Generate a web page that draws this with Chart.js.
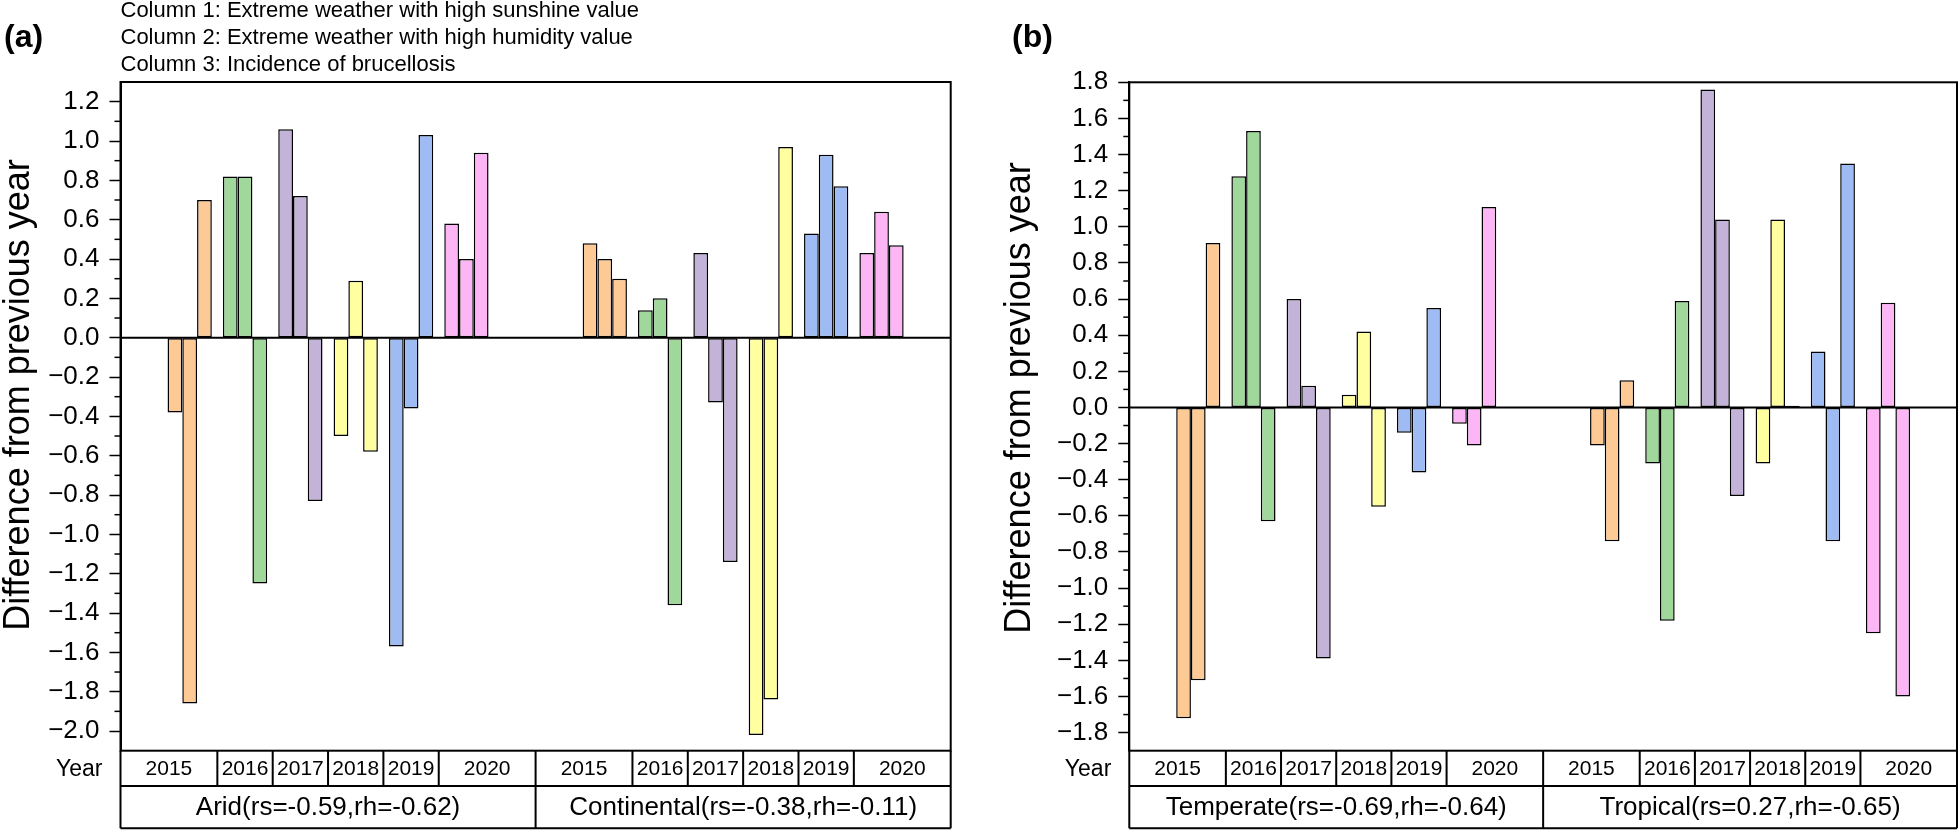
<!DOCTYPE html>
<html>
<head>
<meta charset="utf-8">
<script src="https://cdn.jsdelivr.net/npm/chart.js@4.4.1/dist/chart.umd.min.js"></script>
<style>
  html, body { margin: 0; padding: 0; background: #fff; }
  body { width: 1960px; height: 831px; position: relative; overflow: hidden; }
  .panel { position: absolute; top: 0; width: 980px; height: 831px; }
  #panelA { left: 0; }
  #panelB { left: 980px; }
</style>
</head>
<body>
<div class="panel" id="panelA"><canvas id="chartA" width="980" height="831"></canvas></div>
<div class="panel" id="panelB"><canvas id="chartB" width="980" height="831"></canvas></div>
<script>
const years = ["2015", "2016", "2017", "2018", "2019", "2020"];
const columnNotes = [
  "Column 1: Extreme weather with high sunshine value",
  "Column 2: Extreme weather with high humidity value",
  "Column 3: Incidence of brucellosis",
];
const panelAGroups = ["Arid(rs=-0.59,rh=-0.62)", "Continental(rs=-0.38,rh=-0.11)"];
const panelBGroups = ["Temperate(rs=-0.69,rh=-0.64)", "Tropical(rs=0.27,rh=-0.65)"];

// major tick labels of each panel
const panelATicks = [-2.0, -1.8, -1.6, -1.4, -1.2, -1.0, -0.8, -0.6, -0.4, -0.2, 0.0, 0.2, 0.4, 0.6, 0.8, 1.0, 1.2];
const panelBTicks = [-1.8, -1.6, -1.4, -1.2, -1.0, -0.8, -0.6, -0.4, -0.2, 0.0, 0.2, 0.4, 0.6, 0.8, 1.0, 1.2, 1.4, 1.6, 1.8];

// one value per year, column 1..3 = sunshine, humidity, brucellosis
const aridCol1 = [-0.38, 0.82, 1.06, -0.50, -1.57, 0.58];
const aridCol2 = [-1.86, 0.82, 0.72, 0.29, -0.36, 0.40];
const aridCol3 = [0.70, -1.25, -0.83, -0.58, 1.03, 0.94];
const continentalCol1 = [0.48, 0.14, 0.43, -2.02, 0.53, 0.43];
const continentalCol2 = [0.40, 0.20, -0.33, -1.84, 0.93, 0.64];
const continentalCol3 = [0.30, -1.36, -1.14, 0.97, 0.77, 0.47];
const temperateCol1 = [-1.72, 1.28, 0.60, 0.07, -0.14, -0.09];
const temperateCol2 = [-1.51, 1.53, 0.12, 0.42, -0.36, -0.21];
const temperateCol3 = [0.91, -0.63, -1.39, -0.55, 0.55, 1.11];
const tropicalCol1 = [-0.21, -0.31, 1.76, -0.31, 0.31, -1.25];
const tropicalCol2 = [-0.74, -1.18, 1.04, 1.04, -0.74, 0.58];
const tropicalCol3 = [0.15, 0.59, -0.49, 0.01, 1.35, -1.60];

const yearColors = ["#FDCA96", "#A0D89C", "#C4B3D8", "#FFFFA0", "#9EBCF3", "#FCB6F6"];

const FONT = "'Liberation Sans', Arial, sans-serif";
// each climate group is 7.5 year-slots wide, first year sits 1.25 slots in
const GROUP_SLOTS = 7.5;
const FIRST_OFFSET = 1.25;

function buildPoints(groupSeries) {
  const pts = [];
  groupSeries.forEach((vals, g) => {
    vals.forEach((v, i) => pts.push({ x: g * GROUP_SLOTS + FIRST_OFFSET + i, y: v }));
  });
  return pts;
}

function fmtTick(v) {
  if (Math.abs(v) < 1e-9) return "0.0";
  return v < 0 ? "\u2212" + Math.abs(v).toFixed(1) : v.toFixed(1);
}

function decorPlugin(cfg) {
  return {
    id: "decor",
    afterDraw(chart) {
      const ctx = chart.ctx;
      const area = chart.chartArea;
      const xs = chart.scales.x;
      const ys = chart.scales.y;
      ctx.save();
      ctx.strokeStyle = "#000";
      ctx.fillStyle = "#000";

      // minor ticks halfway between the labelled ones
      ctx.lineWidth = 1.5;
      for (let i = 0; i < cfg.ticks.length - 1; i++) {
        const py = ys.getPixelForValue((cfg.ticks[i] + cfg.ticks[i + 1]) / 2);
        ctx.beginPath();
        ctx.moveTo(area.left - 6, py);
        ctx.lineTo(area.left, py);
        ctx.stroke();
      }

      // zero line and frame
      ctx.lineWidth = 2;
      const y0 = ys.getPixelForValue(0);
      ctx.beginPath();
      ctx.moveTo(area.left, y0);
      ctx.lineTo(area.right, y0);
      ctx.stroke();
      ctx.strokeRect(area.left, area.top, area.right - area.left, area.bottom - area.top);

      // category table under the plot
      const rowTop = area.bottom, rowMid = area.bottom + 35.3, rowBot = area.bottom + 77.6;
      ctx.beginPath();
      ctx.moveTo(area.left, rowMid); ctx.lineTo(area.right, rowMid);
      ctx.moveTo(area.left, rowBot); ctx.lineTo(area.right, rowBot);
      ctx.moveTo(area.left, rowTop); ctx.lineTo(area.left, rowBot);
      ctx.moveTo(area.right, rowTop); ctx.lineTo(area.right, rowBot);
      const mid = xs.getPixelForValue(GROUP_SLOTS);
      ctx.moveTo(mid, rowTop); ctx.lineTo(mid, rowBot);
      for (let g = 0; g < 2; g++) {
        for (let i = 0; i < years.length - 1; i++) {
          const px = xs.getPixelForValue(g * GROUP_SLOTS + FIRST_OFFSET + i + 0.5);
          ctx.moveTo(px, rowTop); ctx.lineTo(px, rowMid);
        }
      }
      ctx.stroke();

      ctx.textBaseline = "middle";
      ctx.textAlign = "center";
      ctx.font = "21px " + FONT;
      for (let g = 0; g < 2; g++) {
        const base = g * GROUP_SLOTS;
        const edges = [base];
        for (let i = 0; i < years.length - 1; i++) edges.push(base + FIRST_OFFSET + i + 0.5);
        edges.push(base + GROUP_SLOTS);
        years.forEach((yr, i) => {
          const cx = (xs.getPixelForValue(edges[i]) + xs.getPixelForValue(edges[i + 1])) / 2;
          ctx.fillText(yr, cx, (rowTop + rowMid) / 2 + 1);
        });
      }
      ctx.font = "26px " + FONT;
      cfg.groups.forEach((name, g) => {
        const cx = (xs.getPixelForValue(g * GROUP_SLOTS) + xs.getPixelForValue((g + 1) * GROUP_SLOTS)) / 2;
        ctx.fillText(name, cx, (rowMid + rowBot) / 2 + 1);
      });
      ctx.textAlign = "right";
      ctx.font = "23px " + FONT;
      ctx.fillText("Year", area.left - 18, (rowTop + rowMid) / 2 + 1);

      // y axis title
      ctx.save();
      ctx.translate(cfg.titleX, cfg.titleY);
      ctx.rotate(-Math.PI / 2);
      ctx.textAlign = "center";
      ctx.font = "36px " + FONT;
      ctx.fillText("Difference from previous year", 0, 0);
      ctx.restore();

      // panel letter
      ctx.textAlign = "left";
      ctx.textBaseline = "alphabetic";
      ctx.font = "bold 32px " + FONT;
      ctx.fillText(cfg.letter, cfg.letterX, 47);

      if (cfg.notes) {
        ctx.font = "22px " + FONT;
        cfg.notes.forEach((t, i) => ctx.fillText(t, area.left, 17 + i * 27.2));
      }
      ctx.restore();
    },
  };
}

function makePanel(canvasId, cfg) {
  const datasets = cfg.cols.map((groupSeries, k) => ({
    label: columnNotes[k],
    data: buildPoints(groupSeries),
    backgroundColor: cfg.groups.flatMap(() => yearColors),
    borderColor: "#000",
    borderWidth: 1.5,
    borderSkipped: false,
    categoryPercentage: 0.8,
    barPercentage: 1.0,
  }));

  new Chart(document.getElementById(canvasId), {
    type: "bar",
    data: { datasets },
    options: {
      responsive: false,
      animation: false,
      devicePixelRatio: 1,
      layout: { padding: { left: 0, right: cfg.padRight, top: cfg.padTop, bottom: 80.3 } },
      plugins: { legend: { display: false }, tooltip: { enabled: false } },
      scales: {
        x: { type: "linear", min: 0, max: 2 * GROUP_SLOTS, display: false, offset: false },
        y: {
          min: cfg.yMin,
          max: cfg.yMax,
          afterFit(scale) { scale.width = cfg.axisWidth; },
          afterBuildTicks(scale) { scale.ticks = cfg.ticks.map((v) => ({ value: v })); },
          border: { display: true, color: "#000", width: 2 },
          grid: { drawOnChartArea: false, drawTicks: true, tickLength: 11, tickColor: "#000", tickWidth: 1.5 },
          ticks: {
            color: "#000",
            padding: 10,
            font: { family: FONT, size: 26 },
            callback: (v) => fmtTick(v),
          },
        },
      },
    },
    plugins: [decorPlugin(cfg)],
  });
}

makePanel("chartA", {
  groups: panelAGroups,
  cols: [[aridCol1, continentalCol1], [aridCol2, continentalCol2], [aridCol3, continentalCol3]],
  ticks: panelATicks,
  yMin: -2.1, yMax: 1.3,
  axisWidth: 120.5, padRight: 29.3, padTop: 82,
  titleX: 19, titleY: 395,
  letter: "(a)", letterX: 4,
  notes: columnNotes,
});

makePanel("chartB", {
  groups: panelBGroups,
  cols: [[temperateCol1, tropicalCol1], [temperateCol2, tropicalCol2], [temperateCol3, tropicalCol3]],
  ticks: panelBTicks,
  yMin: -1.9, yMax: 1.8,
  axisWidth: 149.3, padRight: 3, padTop: 82.3,
  titleX: 40, titleY: 398,
  letter: "(b)", letterX: 32,
});
</script>
</body>
</html>
